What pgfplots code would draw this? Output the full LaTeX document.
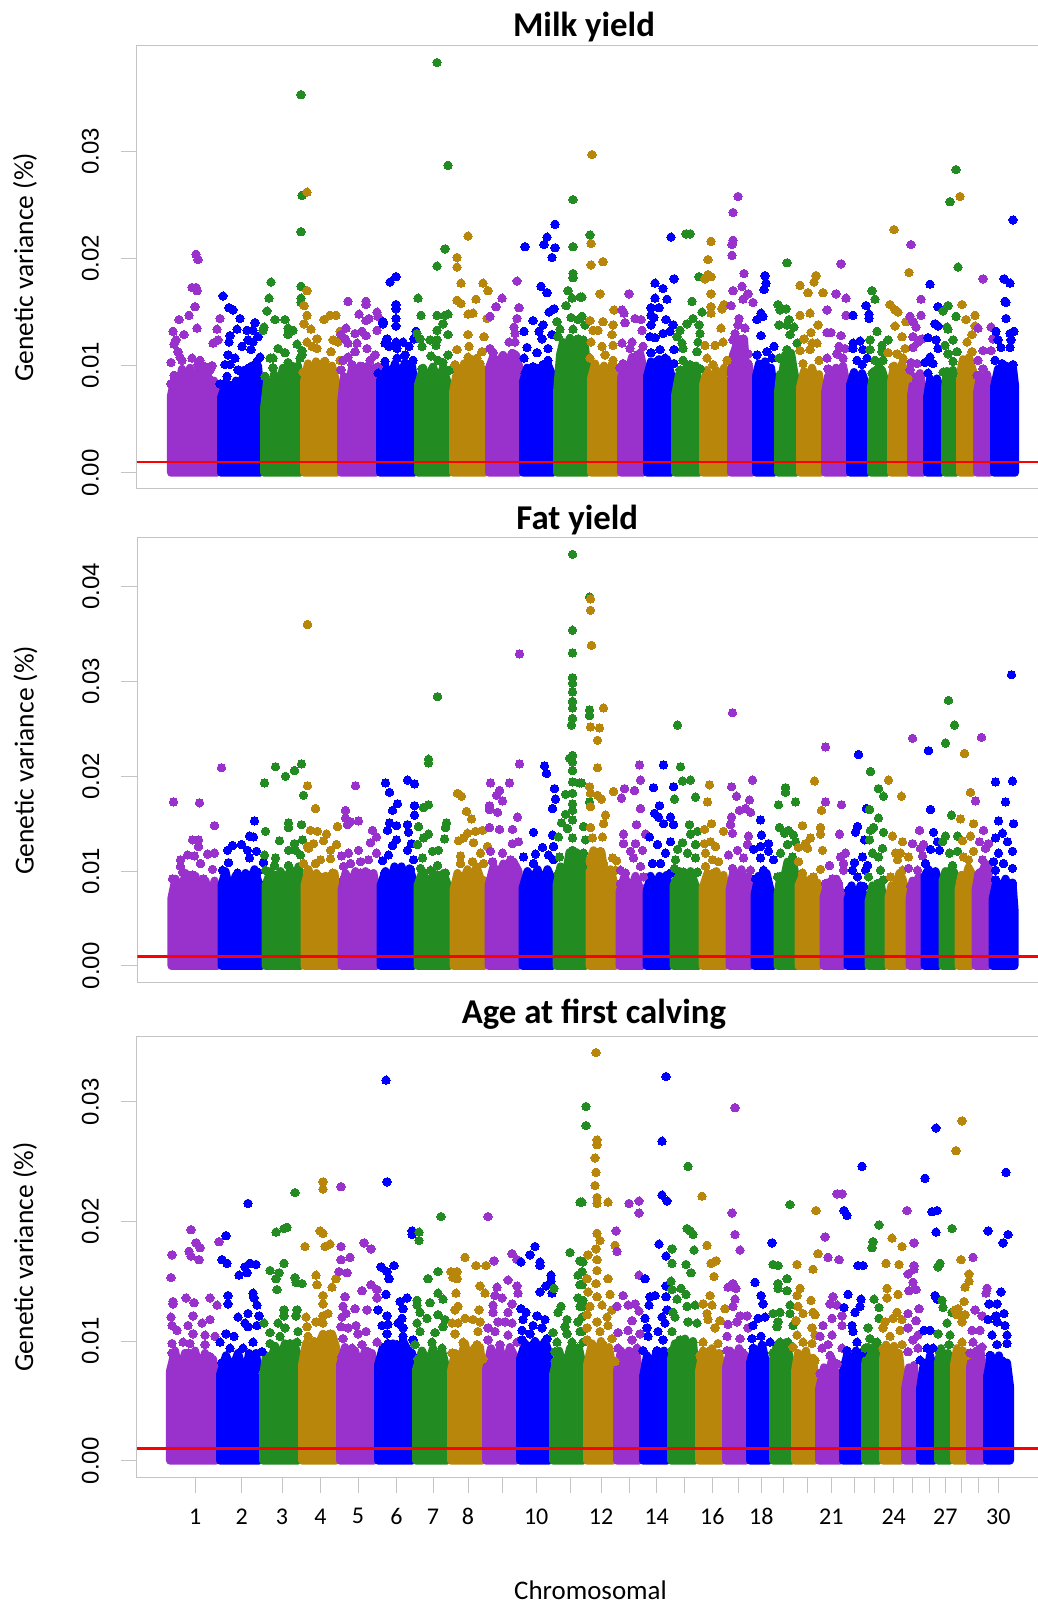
\documentclass[border=0pt]{standalone}
\usepackage{pgfplots}
\pgfplotsset{compat=1.18}
\usepackage{fontspec}
\setmainfont{Carlito}
\newfontfamily\arialf{Liberation Sans}
\definecolor{pp}{HTML}{9932CC}
\definecolor{bl}{HTML}{0000FF}
\definecolor{gr}{HTML}{228B22}
\definecolor{gd}{HTML}{B8860B}
\definecolor{ax}{HTML}{C4C4C4}
\newcommand\chr[3]{%
\addplot[fill=#1,draw=#1,line width=8pt,line join=round,mark=none] coordinates {#2} --cycle;
\addplot[only marks,mark=*,mark size=4.2pt,color=#1,mark options={draw=#1,fill=#1,line width=0pt}] coordinates {#3};
}
\pgfplotsset{base/.style={
  scale only axis,width=903pt,xmin=137,xmax=1040,
  axis line style={ax,line width=1pt},
  tick style={ax,line width=1pt},
  tick align=outside,xtick pos=bottom,ytick pos=left,
  ytick={0,.01,.02,.03,.04},
  y tick label style={rotate=90,anchor=south,inner sep=0pt,font=\arialf\fontsize{24}{24}\selectfont,
     /pgf/number format/fixed,/pgf/number format/fixed zerofill,/pgf/number format/precision=2,/pgf/number format/assume math mode=true},
  yticklabel shift=22pt,
  scaled y ticks=false,
  ylabel={Genetic variance (\%)},
  ylabel style={at={(axis description cs:-.124,.5)},anchor=center,rotate=0,font=\fontsize{27.5}{30}\selectfont},
  title style={font=\bfseries\fontsize{34.8}{36}\selectfont,anchor=center},
  major tick length=16pt,
  x tick style={ax,line width=.5pt},
}}
\newcommand\redline{\addplot[red,line width=2.8pt,mark=none] coordinates {(137,.001) (1040,.001)};}
\begin{document}
\begin{tikzpicture}[x=1pt,y=1pt]
\path[use as bounding box] (0,0) rectangle (1038,1604);
% ---------------- Milk yield
\begin{axis}[base,at={(137pt,1115pt)},anchor=south west,height=443.5pt,ymin=-.00152,ymax=.03989,
 xtick=\empty,
 title={Milk yield},title style={at={(axis description cs:.495,1.029)}}]
\chr{pp}{(171,0)(171,.0072)(175,.0090)(178,.0079)(182,.0097)(186,.0080)(190,.0098)(194,.0075)(198,.0096)(202,.0078)(206,.0093)(210,.0072)(214,.0086)(217,.0066)(217,0)}{(196,.0204)(198,.0199)(192,.0173)(196,.0173)(197,.0170)(195,.0155)(189,.0147)(179,.0143)(197,.0135)(173,.0132)(184,.0129)(176,.0124)(174,.0120)(178,.0113)(180,.0108)(182,.0105)(171,.0103)(192,.0107)(200,.0105)(198,.0101)(205,.0099)(212,.0100)(210,.0096)(174,.0091)(187,.0091)(193,.0090)(208,.0090)(198,.0087)(171,.0083)(220,.0144)(217,.0134)(218,.0124)(213,.0121)}
\chr{bl}{(221,0)(221,.0070)(226,.0085)(232,.0072)(236,.0086)(240,.0075)(244,.0096)(248,.0082)(252,.0100)(256,.0085)(258,.0100)(260,.0080)(260,0)}{(223,.0165)(229,.0154)(233,.0152)(240,.0144)(237,.0134)(230,.0128)(229,.0122)(247,.0133)(255,.0140)(253,.0133)(258,.0127)(248,.0124)(253,.0122)(242,.0118)(251,.0115)(260,.0108)(228,.0110)(235,.0107)(225,.0101)(230,.0101)(238,.0096)(257,.0104)(249,.0098)(227,.0090)(220,.0083)(233,.0082)(245,.0087)}
\chr{gr}{(264,0)(264,.0060)(267,.0085)(270,.0072)(274,.0092)(278,.0078)(283,.0098)(288,.0085)(292,.0100)(296,.0087)(298,.0100)(300,.0085)(300,0)}{(271,.0178)(269,.0163)(267,.0151)(275,.0143)(264,.0136)(263,.0133)(285,.0143)(288,.0135)(293,.0133)(288,.0129)(297,.0120)(302,.0114)(278,.0116)(285,.0112)(273,.0107)(270,.0107)(288,.0103)(300,.0107)(273,.0098)(265,.0090)(293,.0095)(283,.0092)(277,.0087)(301,.0353)(302,.0259)(301,.0225)(301,.0174)(301,.0163)(301,.0159)(302,.0110)}
\chr{gd}{(304,0)(304,.0085)(308,.0102)(312,.0086)(316,.0104)(320,.0088)(324,.0104)(328,.0086)(332,.0100)(337,.0082)(337,0)}{(307,.0262)(307,.0170)(304,.0156)(307,.0147)(304,.0139)(311,.0134)(324,.0143)(330,.0147)(336,.0147)(340,.0132)(333,.0124)(338,.0122)(317,.0125)(307,.0122)(312,.0118)(317,.0116)(331,.0113)(340,.0105)(325,.0104)(315,.0101)(303,.0094)(320,.0096)(333,.0093)}
\chr{pp}{(341,0)(341,.0065)(344,.0090)(348,.0078)(352,.0098)(356,.0084)(360,.0100)(364,.0082)(368,.0100)(372,.0085)(374,.0098)(376,.0080)(376,0)}{(348,.0160)(366,.0160)(366,.0157)(359,.0148)(369,.0144)(366,.0142)(377,.0150)(378,.0146)(346,.0135)(377,.0133)(362,.0132)(355,.0130)(366,.0128)(341,.0129)(345,.0125)(348,.0121)(357,.0121)(367,.0116)(355,.0113)(348,.0108)(343,.0105)(375,.0110)(370,.0105)(352,.0101)(341,.0096)(363,.0099)(378,.0099)(370,.0090)}
\chr{bl}{(380,0)(380,.0086)(385,.0100)(390,.0088)(395,.0102)(400,.0089)(405,.0103)(410,.0088)(412,.0100)(414,.0086)(414,0)}{(396,.0183)(390,.0178)(396,.0157)(396,.0153)(396,.0144)(396,.0137)(383,.0141)(383,.0139)(387,.0125)(385,.0121)(389,.0118)(396,.0122)(403,.0122)(414,.0125)(416,.0132)(409,.0118)(397,.0116)(405,.0110)(413,.0105)(385,.0104)(397,.0107)(407,.0099)(393,.0097)(378,.0093)}
\chr{gr}{(418,0)(418,.0082)(423,.0098)(428,.0086)(433,.0099)(438,.0085)(443,.0098)(449,.0080)(449,0)}{(437,.0383)(448,.0287)(445,.0209)(437,.0193)(418,.0163)(421,.0147)(437,.0147)(445,.0147)(448,.0148)(443,.0139)(437,.0133)(417,.0130)(448,.0129)(420,.0125)(430,.0124)(437,.0124)(422,.0118)(436,.0119)(448,.0110)(431,.0109)(438,.0105)(443,.0103)(422,.0097)(432,.0096)(450,.0096)}
\chr{gd}{(453,0)(453,.0075)(456,.0090)(460,.0085)(464,.0102)(468,.0092)(472,.0106)(476,.0088)(480,.0102)(485,.0082)(485,0)}{(468,.0221)(457,.0201)(457,.0192)(461,.0177)(483,.0177)(488,.0170)(476,.0162)(457,.0161)(461,.0158)(473,.0149)(468,.0148)(487,.0144)(468,.0129)(484,.0127)(469,.0118)(457,.0115)(482,.0113)(477,.0107)(468,.0108)(455,.0101)(480,.0102)(458,.0096)(477,.0087)}
\chr{pp}{(489,0)(489,.0098)(493,.0108)(498,.0102)(503,.0110)(508,.0102)(512,.0112)(516,.0110)(519,.0100)(519,0)}{(517,.0179)(502,.0163)(496,.0155)(519,.0154)(490,.0146)(517,.0144)(514,.0136)(515,.0130)(509,.0122)(515,.0122)(490,.0116)(493,.0112)(513,.0111)(515,.0105)}
\chr{bl}{(523,0)(523,.0085)(527,.0098)(532,.0086)(537,.0098)(542,.0088)(547,.0103)(552,.0092)(553,0)}{(555,.0232)(547,.0220)(544,.0213)(525,.0211)(555,.0210)(552,.0201)(541,.0174)(547,.0168)(554,.0153)(549,.0150)(533,.0142)(543,.0138)(524,.0132)(539,.0132)(552,.0129)(542,.0125)(548,.0116)(527,.0117)(537,.0112)(524,.0107)(548,.0105)(543,.0101)(533,.0099)(525,.0093)}
\chr{gr}{(557,0)(557,.0075)(560,.0110)(563,.0122)(566,.0114)(570,.0126)(574,.0115)(578,.0125)(582,.0110)(585,.0118)(587,.0100)(587,0)}{(573,.0255)(573,.0211)(573,.0186)(573,.0182)(568,.0170)(572,.0163)(580,.0164)(566,.0156)(571,.0145)(578,.0143)(557,.0141)(560,.0134)(573,.0134)(558,.0127)(578,.0125)(590,.0222)(582,.0164)(582,.0146)(585,.0138)(583,.0124)}
\chr{gd}{(591,0)(591,.0088)(595,.0102)(600,.0085)(604,.0100)(608,.0082)(612,.0100)(617,.0085)(617,0)}{(592,.0297)(591,.0214)(591,.0194)(603,.0197)(600,.0167)(614,.0152)(590,.0142)(603,.0141)(593,.0133)(598,.0133)(613,.0138)(612,.0129)(591,.0122)(613,.0119)(602,.0118)(590,.0107)(605,.0110)(613,.0105)(612,.0101)(600,.0096)}
\chr{pp}{(621,0)(621,.0088)(624,.0100)(628,.0094)(632,.0108)(636,.0103)(640,.0112)(643,.0100)(643,0)}{(629,.0167)(622,.0152)(624,.0149)(625,.0140)(635,.0144)(641,.0143)(642,.0133)(622,.0121)(632,.0122)(643,.0118)(630,.0116)(620,.0098)(637,.0110)(623,.0102)}
\chr{bl}{(647,0)(647,.0090)(651,.0104)(655,.0094)(659,.0106)(663,.0094)(667,.0106)(671,.0092)(671,0)}{(671,.0220)(674,.0181)(655,.0177)(663,.0172)(655,.0163)(667,.0162)(651,.0154)(659,.0154)(651,.0147)(654,.0145)(666,.0143)(651,.0138)(673,.0138)(650,.0127)(655,.0126)(663,.0130)(670,.0132)(660,.0115)(674,.0115)(651,.0112)(658,.0105)(674,.0102)(665,.0107)}
\chr{gr}{(675,0)(675,.0072)(679,.0092)(683,.0082)(687,.0100)(692,.0085)(696,.0100)(699,.0080)(699,0)}{(686,.0223)(690,.0223)(699,.0183)(692,.0160)(702,.0150)(693,.0144)(687,.0139)(699,.0138)(680,.0133)(700,.0130)(677,.0127)(682,.0121)(698,.0122)(683,.0116)(697,.0113)(683,.0105)(700,.0097)(680,.0096)(690,.0101)}
\chr{gd}{(703,0)(703,.0082)(707,.0096)(712,.0078)(716,.0096)(720,.0082)(724,.0098)(727,.0085)(727,0)}{(711,.0216)(708,.0199)(708,.0185)(705,.0181)(711,.0183)(711,.0167)(724,.0157)(722,.0153)(711,.0155)(711,.0149)(721,.0135)(723,.0122)(705,.0119)(715,.0119)(707,.0107)(727,.0105)(713,.0101)(723,.0090)}
\chr{pp}{(731,0)(731,.0095)(733,.0110)(735,.0115)(738,.0125)(742,.0118)(744,.0125)(746,.0100)(749,.0100)(752,.0080)(752,0)}{(738,.0258)(733,.0243)(733,.0217)(732,.0213)(732,.0203)(744,.0186)(733,.0170)(742,.0174)(748,.0167)(743,.0162)(753,.0159)(731,.0156)(739,.0144)(738,.0138)(745,.0135)(735,.0130)(743,.0125)(748,.0111)(748,.0102)(733,.0124)}
\chr{bl}{(756,0)(756,.0090)(759,.0102)(762,.0095)(765,.0104)(768,.0093)(771,.0098)(774,.0078)(774,0)}{(765,.0184)(766,.0177)(764,.0171)(761,.0149)(763,.0146)(757,.0143)(761,.0128)(774,.0118)(767,.0113)(757,.0110)(772,.0107)}
\chr{gr}{(778,0)(778,.0075)(780,.0092)(782,.0090)(785,.0110)(788,.0105)(791,.0112)(794,.0095)(796,.0085)(796,0)}{(787,.0196)(778,.0157)(780,.0152)(786,.0153)(789,.0143)(779,.0138)(787,.0138)(794,.0136)(790,.0129)(797,.0121)(787,.0115)(779,.0107)}
\chr{gd}{(800,0)(800,.0080)(804,.0095)(808,.0085)(812,.0098)(816,.0084)(819,.0092)(821,.0075)(821,0)}{(816,.0184)(814,.0178)(800,.0175)(808,.0168)(823,.0168)(810,.0149)(800,.0147)(818,.0138)(811,.0131)(804,.0125)(817,.0121)(812,.0121)(810,.0115)(800,.0114)(819,.0105)(803,.0102)}
\chr{pp}{(825,0)(825,.0075)(828,.0090)(832,.0085)(836,.0098)(840,.0090)(843,.0100)(846,.0085)(846,0)}{(841,.0195)(836,.0167)(846,.0163)(827,.0152)(846,.0147)(827,.0131)(831,.0131)(841,.0128)(839,.0118)(845,.0116)(837,.0111)(827,.0107)(843,.0107)(828,.0097)(839,.0094)}
\chr{bl}{(850,0)(850,.0082)(854,.0094)(858,.0078)(862,.0093)(867,.0080)(867,0)}{(866,.0156)(853,.0147)(869,.0148)(869,.0144)(853,.0121)(860,.0123)(863,.0115)(853,.0116)(867,.0107)(857,.0105)(862,.0101)}
\chr{gr}{(871,0)(871,.0080)(874,.0095)(878,.0084)(882,.0096)(887,.0080)(887,0)}{(872,.0170)(875,.0162)(877,.0132)(870,.0124)(888,.0124)(882,.0119)(870,.0115)(882,.0113)(875,.0105)(883,.0105)(879,.0099)(872,.0093)}
\chr{gd}{(891,0)(891,.0085)(894,.0100)(898,.0088)(902,.0102)(907,.0085)(907,0)}{(894,.0227)(909,.0187)(890,.0157)(895,.0152)(898,.0150)(895,.0137)(906,.0141)(902,.0127)(905,.0116)(888,.0112)(897,.0111)(903,.0107)(893,.0099)(908,.0088)}
\chr{pp}{(911,0)(911,.0072)(914,.0090)(917,.0082)(920,.0093)(923,.0072)(923,0)}{(911,.0213)(921,.0162)(921,.0147)(910,.0146)(913,.0141)(916,.0136)(913,.0127)(922,.0125)(913,.0117)(918,.0122)(911,.0103)(917,.0102)(910,.0096)(921,.0091)}
\chr{bl}{(927,0)(927,.0070)(930,.0088)(934,.0068)(937,.0088)(941,.0075)(941,0)}{(930,.0176)(938,.0155)(935,.0139)(938,.0137)(928,.0126)(936,.0124)(938,.0116)(930,.0108)(925,.0103)(933,.0102)(928,.0093)}
\chr{gr}{(945,0)(945,.0080)(947,.0095)(950,.0083)(953,.0096)(956,.0075)(956,0)}{(956,.0283)(950,.0253)(958,.0192)(948,.0156)(943,.0151)(956,.0146)(947,.0136)(948,.0134)(953,.0124)(945,.0119)(957,.0113)(948,.0111)(953,.0104)(943,.0094)(953,.0093)}
\chr{gd}{(960,0)(960,.0092)(963,.0106)(966,.0098)(969,.0108)(973,.0095)(973,0)}{(960,.0258)(962,.0157)(975,.0147)(966,.0143)(975,.0137)(972,.0129)(967,.0122)(972,.0113)(962,.0101)(968,.0105)}
\chr{pp}{(977,0)(977,.0075)(980,.0090)(984,.0080)(987,.0092)(990,.0078)(990,0)}{(983,.0181)(991,.0136)(978,.0135)(993,.0125)(983,.0114)(991,.0114)(978,.0105)(983,.0097)(977,.0091)}
\chr{bl}{(994,0)(994,.0080)(998,.0097)(1002,.0088)(1006,.0100)(1010,.0088)(1013,.0098)(1015,.0082)(1015,0)}{(1013,.0236)(1004,.0181)(1010,.0177)(1005,.0160)(1006,.0159)(1006,.0144)(996,.0132)(1014,.0132)(1010,.0130)(998,.0124)(1011,.0124)(1001,.0117)(1010,.0117)(995,.0105)(1013,.0101)(1002,.0102)}
\redline
\end{axis}
% ---------------- Fat yield
\begin{axis}[base,at={(137.5pt,621.7pt)},anchor=south west,height=444.3pt,ymin=-.00172,ymax=.04512,
 xtick=\empty,
 title={Fat yield},title style={at={(axis description cs:.487,1.028)}}]
\chr{pp}{(171,0)(171,.0072)(175,.0092)(180,.0076)(185,.0098)(190,.0082)(195,.0095)(200,.0072)(205,.0090)(210,.0066)(214,.0090)(217,.0075)(217,0)}{(173,.0173)(199,.0172)(221,.0209)(214,.0148)(192,.0133)(198,.0133)(198,.0126)(180,.0112)(187,.0117)(194,.0116)(207,.0118)(214,.0119)(200,.0108)(212,.0102)(182,.0099)(172,.0092)(192,.0096)(203,.0092)(180,.0105)(190,.0087)}
\chr{bl}{(221,0)(221,.0085)(225,.0100)(230,.0075)(235,.0095)(240,.0082)(245,.0098)(250,.0090)(254,.0102)(258,.0088)(261,.0085)(261,0)}{(254,.0153)(249,.0137)(253,.0136)(241,.0128)(232,.0127)(227,.0122)(247,.0122)(256,.0121)(249,.0114)(228,.0109)(263,.0109)(222,.0101)(237,.0098)(257,.0099)(247,.0096)}
\chr{gr}{(265,0)(265,.0085)(270,.0100)(275,.0088)(280,.0100)(285,.0088)(290,.0102)(295,.0090)(298,.0105)(300,.0092)(300,0)}{(264,.0193)(275,.0210)(285,.0200)(294,.0206)(301,.0213)(303,.0180)(288,.0151)(288,.0146)(301,.0149)(265,.0142)(279,.0132)(294,.0129)(302,.0133)(288,.0122)(295,.0122)(264,.0117)(275,.0114)(300,.0117)(288,.0106)(274,.0106)(265,.0101)(277,.0096)}
\chr{gd}{(304,0)(304,.0085)(308,.0102)(312,.0083)(316,.0098)(320,.0078)(325,.0095)(330,.0082)(334,.0098)(337,.0075)(337,0)}{(307,.0360)(307,.0190)(315,.0166)(337,.0147)(310,.0143)(317,.0142)(326,.0139)(323,.0132)(336,.0128)(330,.0122)(307,.0126)(313,.0129)(308,.0124)(330,.0113)(320,.0112)(315,.0108)(303,.0108)(307,.0101)(332,.0098)(320,.0094)}
\chr{pp}{(341,0)(341,.0080)(345,.0098)(350,.0085)(355,.0100)(360,.0082)(365,.0100)(370,.0085)(373,.0098)(376,.0080)(376,0)}{(355,.0190)(345,.0164)(345,.0156)(350,.0152)(358,.0153)(347,.0149)(372,.0143)(376,.0136)(370,.0130)(358,.0122)(348,.0119)(341,.0116)(376,.0119)(368,.0112)(360,.0110)(350,.0108)(343,.0105)(367,.0098)(343,.0091)(360,.0098)}
\chr{bl}{(380,0)(380,.0085)(385,.0100)(390,.0088)(394,.0105)(397,.0095)(401,.0105)(405,.0087)(409,.0103)(413,.0090)(413,0)}{(385,.0193)(389,.0183)(407,.0196)(414,.0192)(397,.0171)(392,.0164)(414,.0169)(414,.0159)(389,.0151)(396,.0148)(407,.0149)(387,.0143)(408,.0141)(396,.0133)(411,.0129)(392,.0127)(407,.0122)(388,.0117)(382,.0111)(413,.0112)(410,.0102)(384,.0098)(395,.0101)}
\chr{gr}{(417,0)(417,.0085)(422,.0100)(428,.0082)(433,.0098)(438,.0085)(443,.0098)(449,.0080)(449,0)}{(437,.0284)(428,.0218)(428,.0214)(428,.0170)(423,.0167)(418,.0147)(446,.0151)(445,.0146)(428,.0139)(423,.0135)(444,.0134)(417,.0128)(432,.0121)(438,.0122)(422,.0114)(437,.0106)(420,.0103)(430,.0101)(445,.0098)(437,.0096)}
\chr{gd}{(453,0)(453,.0080)(457,.0098)(462,.0088)(467,.0102)(472,.0090)(476,.0105)(480,.0092)(484,.0090)(484,0)}{(457,.0182)(461,.0179)(466,.0163)(471,.0155)(482,.0143)(475,.0142)(467,.0140)(463,.0135)(458,.0132)(473,.0130)(487,.0126)(460,.0116)(480,.0119)(472,.0110)(460,.0108)(483,.0108)(467,.0098)}
\chr{pp}{(488,0)(488,.0085)(493,.0105)(498,.0095)(503,.0108)(508,.0098)(513,.0110)(518,.0100)(518,0)}{(519,.0329)(519,.0213)(490,.0193)(509,.0193)(499,.0185)(496,.0180)(502,.0174)(489,.0169)(489,.0165)(497,.0162)(517,.0157)(489,.0146)(499,.0144)(512,.0144)(518,.0131)(512,.0129)(502,.0119)(490,.0121)(492,.0110)(510,.0112)(500,.0101)}
\chr{bl}{(522,0)(522,.0082)(527,.0100)(532,.0090)(537,.0102)(542,.0085)(547,.0102)(552,.0090)(552,0)}{(544,.0211)(546,.0203)(554,.0187)(555,.0176)(552,.0166)(533,.0141)(552,.0138)(553,.0126)(542,.0125)(535,.0118)(523,.0115)(548,.0117)(553,.0112)(533,.0108)(527,.0094)}
\chr{gr}{(556,0)(556,.0085)(560,.0105)(565,.0095)(569,.0120)(572,.0110)(576,.0120)(580,.0095)(583,.0112)(585,.0100)(585,0)}{(572,.0434)(572,.0354)(572,.0330)(572,.0304)(572,.0298)(572,.0289)(572,.0279)(572,.0272)(572,.0261)(571,.0254)(572,.0222)(569,.0219)(572,.0215)(572,.0206)(572,.0194)(579,.0193)(572,.0182)(565,.0181)(572,.0171)(572,.0164)(565,.0160)(572,.0154)(561,.0151)(567,.0145)(558,.0136)(572,.0135)(572,.0122)(559,.0115)(580,.0105)(570,.0108)(558,.0098)(589,.0389)(589,.0270)(589,.0264)(589,.0173)(581,.0193)(583,.0147)(585,.0133)(583,.0119)(582,.0105)}
\chr{gd}{(589,0)(589,.0110)(593,.0122)(597,.0115)(601,.0120)(605,.0090)(610,.0102)(615,.0082)(615,0)}{(590,.0387)(590,.0375)(591,.0338)(603,.0272)(590,.0252)(599,.0251)(597,.0238)(597,.0209)(589,.0189)(613,.0184)(590,.0182)(597,.0180)(601,.0176)(590,.0168)(605,.0159)(603,.0150)(590,.0146)(602,.0136)(592,.0135)(600,.0121)(612,.0114)(616,.0111)(592,.0112)(603,.0108)(615,.0101)(597,.0098)}
\chr{pp}{(619,0)(619,.0078)(624,.0095)(630,.0078)(635,.0095)(640,.0080)(642,.0082)(642,0)}{(639,.0212)(640,.0196)(624,.0187)(634,.0185)(621,.0177)(640,.0166)(636,.0149)(623,.0139)(645,.0139)(623,.0129)(635,.0129)(630,.0121)(642,.0122)(633,.0114)(640,.0105)(620,.0101)(625,.0098)(643,.0094)(620,.0087)}
\chr{bl}{(646,0)(646,.0078)(650,.0095)(655,.0080)(659,.0095)(662,.0080)(666,.0096)(669,.0082)(669,0)}{(663,.0212)(653,.0188)(673,.0189)(659,.0169)(654,.0161)(658,.0157)(663,.0150)(670,.0157)(673,.0149)(649,.0136)(670,.0131)(657,.0128)(665,.0119)(652,.0108)(660,.0108)(670,.0098)(653,.0091)}
\chr{gr}{(673,0)(673,.0085)(679,.0100)(685,.0085)(690,.0100)(695,.0085)(698,.0080)(698,0)}{(677,.0254)(674,.0176)(680,.0210)(682,.0195)(690,.0196)(695,.0178)(689,.0149)(690,.0139)(697,.0142)(682,.0130)(695,.0128)(677,.0123)(687,.0119)(675,.0112)(695,.0114)(674,.0103)(683,.0099)(697,.0099)(676,.0090)}
\chr{gd}{(702,0)(702,.0082)(707,.0098)(712,.0086)(716,.0100)(720,.0082)(723,.0096)(725,.0075)(725,0)}{(709,.0191)(707,.0173)(711,.0150)(704,.0144)(723,.0142)(710,.0131)(704,.0129)(715,.0126)(705,.0119)(712,.0112)(718,.0110)(705,.0105)(713,.0098)}
\chr{pp}{(729,0)(729,.0080)(733,.0100)(737,.0088)(741,.0102)(745,.0080)(748,.0095)(750,.0070)(750,0)}{(732,.0267)(731,.0189)(736,.0179)(749,.0175)(752,.0196)(739,.0164)(745,.0166)(750,.0162)(731,.0157)(730,.0149)(732,.0140)(748,.0137)(737,.0122)(747,.0128)(728,.0117)(743,.0114)(732,.0103)(750,.0101)}
\chr{bl}{(754,0)(754,.0075)(758,.0095)(762,.0085)(766,.0098)(770,.0080)(773,.0075)(773,0)}{(760,.0154)(761,.0138)(768,.0129)(760,.0126)(753,.0123)(768,.0121)(773,.0112)(760,.0114)(763,.0101)(755,.0092)}
\chr{gr}{(777,0)(777,.0075)(780,.0095)(783,.0090)(787,.0110)(790,.0105)(793,.0108)(796,.0088)(796,0)}{(785,.0188)(785,.0183)(778,.0170)(795,.0173)(779,.0146)(784,.0140)(788,.0143)(793,.0138)(795,.0131)(787,.0128)(780,.0119)(792,.0115)(777,.0094)}
\chr{gd}{(798,0)(798,.0085)(802,.0095)(806,.0075)(810,.0092)(814,.0072)(817,.0088)(819,.0070)(819,0)}{(814,.0195)(821,.0164)(802,.0148)(820,.0146)(820,.0139)(810,.0135)(805,.0129)(798,.0125)(807,.0124)(822,.0122)(798,.0110)(820,.0102)(802,.0098)(813,.0094)}
\chr{pp}{(823,0)(823,.0072)(827,.0088)(832,.0078)(836,.0092)(840,.0078)(843,.0075)(843,0)}{(825,.0231)(825,.0173)(841,.0170)(839,.0139)(845,.0119)(840,.0115)(829,.0106)(843,.0108)(843,.0101)(832,.0092)(825,.0087)(838,.0087)}
\chr{bl}{(847,0)(847,.0070)(851,.0085)(855,.0065)(860,.0085)(864,.0072)(864,0)}{(858,.0223)(866,.0166)(857,.0147)(855,.0141)(864,.0133)(862,.0115)(854,.0109)(867,.0106)(852,.0101)(865,.0101)(857,.0094)(848,.0080)(863,.0084)}
\chr{gr}{(868,0)(868,.0068)(872,.0085)(876,.0072)(880,.0088)(884,.0065)(884,0)}{(870,.0205)(878,.0187)(883,.0179)(869,.0165)(878,.0156)(870,.0143)(873,.0146)(883,.0141)(869,.0133)(882,.0124)(872,.0119)(878,.0115)(880,.0101)(868,.0094)(883,.0091)(877,.0087)}
\chr{gd}{(888,0)(888,.0072)(891,.0085)(895,.0085)(899,.0098)(902,.0092)(905,.0080)(905,0)}{(888,.0196)(901,.0179)(892,.0137)(902,.0131)(895,.0119)(900,.0119)(908,.0115)(897,.0112)(890,.0094)(902,.0101)}
\chr{pp}{(909,0)(909,.0070)(912,.0090)(915,.0082)(918,.0094)(920,.0075)(920,0)}{(912,.0240)(919,.0143)(912,.0129)(923,.0128)(920,.0124)(922,.0116)(908,.0103)(917,.0101)(910,.0084)}
\chr{bl}{(924,0)(924,.0095)(928,.0102)(932,.0090)(935,.0100)(938,.0090)(938,0)}{(928,.0227)(930,.0165)(933,.0141)(937,.0131)(930,.0123)(939,.0122)(925,.0108)}
\chr{gr}{(942,0)(942,.0090)(945,.0100)(948,.0095)(951,.0103)(954,.0098)(954,0)}{(948,.0280)(954,.0254)(945,.0235)(951,.0159)(945,.0137)(957,.0137)(942,.0131)(949,.0119)(957,.0121)(952,.0106)}
\chr{gd}{(958,0)(958,.0080)(961,.0096)(965,.0092)(968,.0104)(971,.0098)(971,0)}{(964,.0224)(970,.0183)(960,.0155)(973,.0150)(970,.0137)(962,.0132)(973,.0121)(963,.0115)(968,.0112)(960,.0089)}
\chr{pp}{(975,0)(975,.0080)(978,.0098)(982,.0100)(985,.0108)(988,.0105)(988,0)}{(981,.0241)(975,.0174)(983,.0143)(979,.0131)(985,.0124)(988,.0129)(982,.0112)}
\chr{bl}{(992,0)(992,.0070)(996,.0090)(1000,.0072)(1005,.0092)(1010,.0075)(1012,.0088)(1014,.0060)(1014,0)}{(1011,.0307)(995,.0194)(1012,.0195)(1005,.0173)(998,.0153)(1013,.0150)(1002,.0140)(995,.0135)(1007,.0131)(1012,.0121)(998,.0119)(993,.0110)(1003,.0108)(995,.0101)(1012,.0103)(995,.0091)(1012,.0087)}
\redline
\end{axis}
% ---------------- Age at first calving
\begin{axis}[base,at={(137pt,126.7pt)},anchor=south west,height=440.6pt,ymin=-.00139,ymax=.03543,
 xtick={195.3,241.6,282,320.4,358,396.5,433,468,502.4,536.2,570,601,629.5,656.7,684.5,712.3,738,761.3,783,807,831.4,854,873.8,893.7,912.2,928.8,945.3,961.2,978.4,998.3},
 xticklabels={1,2,3,4,5,6,7,8,,10,,12,,14,,16,,18,,,21,,,24,,,27,,,30},
 x tick label style={font=\fontsize{24}{24}\selectfont,anchor=center,yshift=-23pt},
 xlabel={Chromosomal},xlabel style={at={(axis description cs:.5022,-.2565)},anchor=center,inner sep=0pt,font=\fontsize{26.9}{28}\selectfont},
 title={Age at first calving},title style={at={(axis description cs:.506,1.038)}}]
\chr{pp}{(170,0)(170,.0075)(175,.0092)(180,.0072)(185,.0090)(190,.0070)(195,.0092)(200,.0075)(205,.0090)(210,.0072)(213,.0085)(216,.0070)(216,0)}{(191,.0193)(196,.0182)(200,.0178)(189,.0175)(191,.0171)(172,.0172)(199,.0168)(171,.0153)(219,.0183)(186,.0136)(210,.0136)(173,.0133)(173,.0131)(194,.0132)(217,.0130)(193,.0121)(171,.0120)(210,.0118)(202,.0115)(172,.0113)(188,.0113)(177,.0109)(193,.0106)(205,.0105)(215,.0104)(183,.0099)(172,.0098)(205,.0097)(190,.0098)(172,.0090)(188,.0090)(202,.0085)(180,.0084)(210,.0087)}
\chr{bl}{(220,0)(220,.0072)(226,.0088)(232,.0076)(238,.0090)(245,.0070)(249,.0090)(252,.0072)(256,.0090)(259,.0070)(259,0)}{(248,.0215)(226,.0188)(222,.0168)(227,.0165)(256,.0164)(250,.0165)(245,.0162)(247,.0157)(239,.0155)(228,.0138)(253,.0140)(254,.0136)(228,.0131)(257,.0130)(238,.0120)(248,.0123)(259,.0121)(245,.0115)(257,.0113)(248,.0112)(226,.0106)(234,.0104)(220,.0099)(253,.0099)(230,.0094)(243,.0094)(262,.0091)(222,.0082)(238,.0081)(252,.0087)}
\chr{gr}{(263,0)(263,.0070)(266,.0088)(270,.0082)(275,.0096)(280,.0085)(285,.0098)(290,.0086)(294,.0098)(298,.0088)(298,0)}{(295,.0224)(276,.0191)(284,.0194)(287,.0195)(284,.0165)(270,.0159)(279,.0157)(276,.0152)(295,.0153)(296,.0149)(302,.0148)(277,.0143)(284,.0126)(284,.0121)(297,.0126)(296,.0121)(264,.0115)(278,.0115)(285,.0111)(298,.0108)(270,.0107)(280,.0104)(290,.0098)(297,.0099)(270,.0098)(277,.0090)(263,.0073)}
\chr{gd}{(302,0)(302,.0080)(306,.0098)(310,.0088)(314,.0100)(318,.0096)(323,.0106)(328,.0098)(332,.0106)(336,.0095)(336,0)}{(323,.0233)(323,.0227)(320,.0192)(323,.0190)(330,.0181)(325,.0179)(305,.0179)(316,.0155)(317,.0147)(336,.0152)(332,.0145)(323,.0138)(323,.0131)(328,.0123)(306,.0120)(323,.0121)(316,.0116)(307,.0112)(323,.0115)(330,.0106)(308,.0104)}
\chr{pp}{(340,0)(340,.0080)(345,.0095)(350,.0075)(355,.0092)(360,.0076)(365,.0092)(370,.0074)(372,.0090)(374,.0074)(374,0)}{(341,.0229)(341,.0179)(364,.0182)(371,.0177)(350,.0170)(341,.0168)(339,.0158)(347,.0157)(371,.0147)(362,.0142)(377,.0143)(345,.0137)(377,.0136)(343,.0129)(355,.0127)(367,.0126)(346,.0123)(342,.0120)(341,.0112)(356,.0113)(348,.0111)(358,.0106)(366,.0108)(343,.0102)(352,.0094)(377,.0099)(362,.0097)(368,.0091)(342,.0087)}
\chr{bl}{(378,0)(378,.0080)(383,.0095)(388,.0082)(393,.0098)(398,.0085)(403,.0100)(408,.0092)(412,.0090)(412,0)}{(386,.0318)(387,.0233)(381,.0162)(387,.0158)(394,.0163)(389,.0152)(386,.0139)(400,.0133)(407,.0136)(403,.0127)(378,.0126)(387,.0121)(402,.0119)(382,.0113)(388,.0114)(398,.0115)(403,.0111)(387,.0106)(403,.0104)(388,.0098)(413,.0101)(397,.0097)(387,.0091)(413,.0087)(412,.0192)(412,.0189)}
\chr{gr}{(416,0)(416,.0076)(422,.0092)(428,.0080)(433,.0094)(438,.0080)(442,.0092)(447,.0075)(447,0)}{(441,.0204)(419,.0191)(419,.0184)(438,.0158)(428,.0152)(438,.0140)(443,.0135)(417,.0134)(430,.0132)(417,.0130)(420,.0124)(438,.0122)(445,.0118)(417,.0115)(427,.0119)(443,.0112)(435,.0107)(420,.0108)(415,.0097)(432,.0099)(442,.0094)(418,.0085)(433,.0079)}
\chr{gd}{(451,0)(451,.0075)(455,.0090)(460,.0085)(465,.0098)(470,.0078)(474,.0094)(478,.0082)(480,.0095)(482,.0080)(482,0)}{(465,.0170)(476,.0163)(486,.0163)(451,.0158)(457,.0158)(453,.0153)(457,.0152)(480,.0146)(485,.0140)(456,.0140)(458,.0129)(455,.0126)(479,.0126)(465,.0119)(473,.0118)(480,.0116)(452,.0115)(458,.0115)(455,.0106)(478,.0108)(463,.0099)(477,.0097)(452,.0090)(483,.0085)(458,.0084)}
\chr{pp}{(486,0)(486,.0076)(491,.0094)(496,.0078)(500,.0094)(505,.0078)(510,.0095)(516,.0085)(516,0)}{(488,.0204)(512,.0173)(517,.0168)(494,.0167)(508,.0151)(497,.0145)(517,.0146)(495,.0138)(518,.0140)(502,.0136)(512,.0131)(493,.0130)(508,.0124)(493,.0124)(498,.0116)(505,.0116)(512,.0115)(488,.0111)(495,.0108)(508,.0105)(488,.0101)(500,.0097)(517,.0099)(492,.0090)(507,.0085)}
\chr{bl}{(520,0)(520,.0085)(525,.0098)(530,.0090)(535,.0100)(540,.0092)(545,.0100)(549,.0090)(549,0)}{(535,.0179)(530,.0172)(521,.0166)(540,.0166)(540,.0163)(551,.0155)(551,.0150)(546,.0146)(540,.0141)(552,.0140)(521,.0127)(526,.0124)(523,.0118)(537,.0121)(545,.0118)(533,.0113)(522,.0109)(542,.0111)(530,.0106)(547,.0102)(522,.0101)(533,.0097)}
\chr{gr}{(553,0)(553,.0072)(559,.0092)(565,.0075)(570,.0094)(575,.0080)(579,.0094)(583,.0078)(583,0)}{(580,.0216)(570,.0174)(580,.0167)(578,.0155)(580,.0147)(554,.0144)(578,.0136)(561,.0129)(580,.0129)(558,.0124)(567,.0118)(578,.0116)(565,.0112)(553,.0107)(580,.0108)(567,.0106)(557,.0099)(572,.0099)(555,.0091)(577,.0094)(555,.0083)(567,.0081)(586,.0296)(586,.0280)(582,.0216)(583,.0166)(582,.0158)(582,.0147)(583,.0134)(583,.0129)(582,.0120)(582,.0108)(583,.0099)}
\chr{gd}{(587,0)(587,.0080)(592,.0098)(597,.0085)(601,.0100)(605,.0080)(609,.0095)(613,.0075)(613,0)}{(596,.0341)(597,.0268)(597,.0264)(595,.0253)(596,.0241)(595,.0230)(597,.0220)(597,.0215)(608,.0216)(597,.0190)(600,.0184)(596,.0177)(588,.0172)(597,.0168)(597,.0159)(608,.0152)(587,.0152)(596,.0148)(610,.0139)(588,.0141)(597,.0137)(602,.0130)(612,.0126)(590,.0129)(587,.0122)(607,.0120)(597,.0116)(608,.0113)(587,.0111)(600,.0108)(612,.0102)(587,.0101)(603,.0097)(615,.0083)(595,.0090)(615,.0180)}
\chr{pp}{(617,0)(617,.0075)(621,.0092)(625,.0080)(629,.0092)(633,.0078)(636,.0092)(639,.0075)(639,0)}{(629,.0215)(639,.0217)(639,.0207)(616,.0192)(617,.0175)(639,.0155)(617,.0129)(623,.0138)(628,.0130)(635,.0131)(639,.0125)(632,.0117)(618,.0107)(628,.0109)(632,.0101)(640,.0106)(618,.0094)(637,.0094)(623,.0087)}
\chr{bl}{(643,0)(643,.0070)(647,.0088)(652,.0072)(656,.0090)(660,.0075)(664,.0092)(667,.0078)(667,0)}{(666,.0321)(662,.0267)(662,.0222)(667,.0217)(659,.0181)(666,.0171)(645,.0152)(666,.0146)(666,.0137)(655,.0138)(650,.0137)(649,.0130)(667,.0126)(662,.0120)(645,.0119)(665,.0115)(647,.0111)(658,.0108)(648,.0104)(663,.0101)(643,.0092)(657,.0092)(652,.0085)}
\chr{gr}{(671,0)(671,.0085)(675,.0098)(680,.0090)(685,.0102)(690,.0088)(693,.0100)(695,.0080)(695,0)}{(688,.0246)(687,.0194)(690,.0192)(693,.0189)(672,.0177)(694,.0176)(672,.0165)(686,.0164)(691,.0157)(671,.0150)(672,.0143)(681,.0144)(686,.0139)(677,.0135)(695,.0130)(687,.0129)(673,.0124)(675,.0120)(697,.0115)(688,.0116)(672,.0108)(680,.0101)(693,.0099)(672,.0092)(683,.0090)}
\chr{gd}{(699,0)(699,.0075)(703,.0092)(708,.0080)(712,.0094)(716,.0078)(719,.0090)(722,.0075)(722,0)}{(702,.0221)(707,.0180)(716,.0167)(711,.0165)(714,.0154)(710,.0138)(703,.0131)(712,.0130)(725,.0127)(707,.0123)(708,.0118)(720,.0117)(715,.0111)(703,.0099)(718,.0098)(710,.0092)(700,.0088)(713,.0084)}
\chr{pp}{(726,0)(726,.0078)(730,.0092)(735,.0082)(739,.0094)(742,.0078)(744,.0088)(746,.0070)(746,0)}{(735,.0295)(732,.0207)(735,.0189)(740,.0176)(728,.0145)(733,.0148)(736,.0144)(735,.0135)(733,.0129)(740,.0121)(747,.0121)(728,.0114)(737,.0116)(748,.0111)(727,.0104)(740,.0102)(743,.0090)(727,.0092)(730,.0084)}
\chr{bl}{(750,0)(750,.0082)(754,.0094)(758,.0085)(762,.0097)(766,.0082)(769,.0080)(769,0)}{(755,.0149)(772,.0182)(761,.0138)(763,.0131)(765,.0120)(758,.0119)(753,.0113)(761,.0104)(752,.0102)(770,.0099)(753,.0094)}
\chr{gr}{(773,0)(773,.0085)(777,.0097)(782,.0088)(786,.0099)(790,.0085)(792,.0080)(792,0)}{(790,.0214)(773,.0164)(778,.0163)(787,.0152)(778,.0148)(778,.0144)(787,.0142)(790,.0130)(780,.0124)(773,.0123)(790,.0123)(778,.0116)(777,.0112)(793,.0113)(780,.0099)(788,.0099)(773,.0090)}
\chr{gd}{(795,0)(795,.0075)(798,.0090)(802,.0080)(806,.0092)(810,.0072)(813,.0086)(815,.0070)(815,0)}{(816,.0209)(818,.0173)(797,.0164)(813,.0160)(800,.0144)(797,.0138)(811,.0134)(798,.0129)(813,.0124)(815,.0122)(803,.0123)(796,.0117)(812,.0111)(797,.0105)(815,.0105)(803,.0099)(793,.0095)(812,.0098)(806,.0089)(815,.0084)}
\chr{pp}{(819,0)(819,.0060)(824,.0078)(828,.0068)(832,.0085)(836,.0072)(840,.0072)(840,0)}{(837,.0223)(842,.0223)(825,.0187)(828,.0170)(839,.0168)(833,.0137)(830,.0131)(837,.0130)(842,.0121)(832,.0119)(842,.0113)(823,.0113)(820,.0104)(832,.0105)(828,.0097)(822,.0094)(842,.0094)(830,.0088)(837,.0081)(820,.0073)}
\chr{bl}{(843,0)(843,.0075)(847,.0088)(851,.0078)(856,.0092)(861,.0082)(861,0)}{(844,.0209)(847,.0205)(858,.0163)(863,.0163)(848,.0139)(861,.0135)(844,.0128)(860,.0129)(855,.0124)(852,.0113)(853,.0108)(857,.0099)(847,.0092)(862,.0090)(853,.0084)(862,.0246)}
\chr{gr}{(865,0)(865,.0080)(868,.0095)(872,.0088)(876,.0099)(879,.0085)(879,0)}{(879,.0197)(873,.0183)(872,.0178)(874,.0135)(879,.0128)(879,.0119)(868,.0111)(877,.0099)(870,.0102)(865,.0094)(873,.0087)}
\chr{gd}{(883,0)(883,.0085)(886,.0097)(890,.0082)(894,.0096)(897,.0078)(899,.0090)(901,.0075)(901,0)}{(892,.0186)(902,.0179)(886,.0165)(899,.0164)(887,.0144)(887,.0136)(898,.0139)(897,.0124)(893,.0119)(902,.0118)(885,.0116)(883,.0111)(900,.0109)(890,.0104)(902,.0097)(883,.0094)(892,.0090)}
\chr{pp}{(905,0)(905,.0060)(909,.0078)(912,.0065)(914,.0080)(916,.0060)(916,0)}{(907,.0209)(914,.0182)(914,.0163)(914,.0160)(908,.0156)(913,.0149)(916,.0143)(909,.0142)(919,.0127)(908,.0123)(916,.0117)(908,.0111)(918,.0105)(913,.0101)(908,.0091)(918,.0094)(910,.0076)}
\chr{bl}{(920,0)(920,.0060)(924,.0082)(927,.0072)(930,.0088)(934,.0075)(934,0)}{(936,.0278)(925,.0236)(932,.0208)(937,.0209)(936,.0191)(935,.0138)(937,.0135)(924,.0109)(930,.0109)(927,.0094)(920,.0084)(933,.0094)}
\chr{gr}{(938,0)(938,.0082)(941,.0094)(945,.0075)(948,.0090)(950,.0072)(950,0)}{(952,.0194)(940,.0165)(938,.0162)(942,.0134)(943,.0128)(952,.0124)(947,.0115)(938,.0106)(950,.0105)(949,.0097)(940,.0090)}
\chr{gd}{(954,0)(954,.0080)(957,.0094)(960,.0085)(963,.0092)(966,.0072)(966,0)}{(962,.0284)(956,.0259)(961,.0168)(969,.0156)(969,.0150)(965,.0145)(964,.0133)(955,.0126)(958,.0127)(965,.0122)(957,.0122)(962,.0116)(962,.0099)(967,.0088)}
\chr{pp}{(970,0)(970,.0078)(973,.0090)(977,.0082)(980,.0094)(983,.0078)(983,0)}{(973,.0170)(987,.0144)(986,.0140)(975,.0126)(982,.0121)(972,.0109)(980,.0109)(973,.0099)(982,.0095)(970,.0090)(977,.0092)}
\chr{bl}{(987,0)(987,.0070)(991,.0088)(995,.0072)(999,.0088)(1003,.0070)(1007,.0082)(1010,.0062)(1010,0)}{(1006,.0241)(988,.0192)(1008,.0189)(1003,.0182)(1001,.0141)(989,.0131)(997,.0131)(1004,.0123)(996,.0121)(988,.0118)(1005,.0113)(997,.0116)(992,.0105)(1007,.0105)(997,.0097)(1007,.0098)(990,.0088)(1003,.0083)(990,.0079)}
\redline
\end{axis}
\end{tikzpicture}
\end{document}
